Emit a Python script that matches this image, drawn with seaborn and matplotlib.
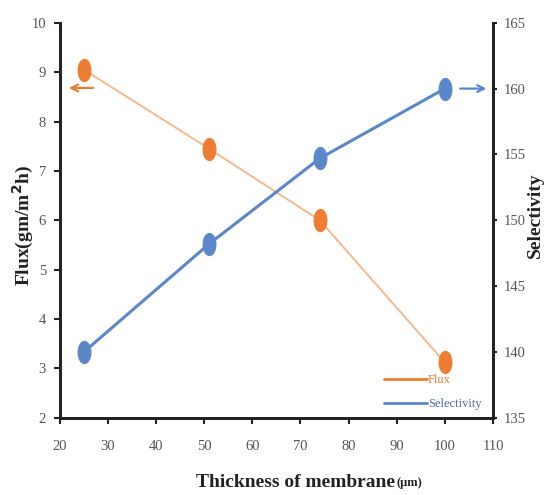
import numpy as np
import pandas as pd
import matplotlib.pyplot as plt
from matplotlib.path import Path
from matplotlib.lines import Line2D
import seaborn as sns

# ── data ────────────────────────────────────────────────────────────
thickness = [25, 51, 74, 100]
flux = [9.05, 7.45, 6.0, 3.12]
selectivity = [140.0, 148.2, 154.7, 160.0]

ORANGE = "#ED7D31"
ORANGE_LINE = "#F5B98E"
BLUE = "#5B87C9"
TICK_GRAY = "#555555"

sns.set_theme(style="white")
plt.rcParams["font.family"] = ["Liberation Serif", "DejaVu Serif"]

# tall ellipse marker, like the stretched Excel bitmap
circ = Path.unit_circle()
ellipse = Path(circ.vertices * np.array([0.58, 1.0]), circ.codes)

df = pd.DataFrame({"thickness": thickness, "flux": flux, "selectivity": selectivity})

fig = plt.figure(figsize=(5.49, 4.95), dpi=100)
ax = fig.add_axes([0.109, 0.156, 0.789, 0.798])
ax2 = ax.twinx()

sns.lineplot(data=df, x="thickness", y="flux", ax=ax, color=ORANGE_LINE,
             linewidth=1.4, marker=ellipse, markersize=16,
             markerfacecolor=ORANGE, markeredgecolor=ORANGE)
sns.lineplot(data=df, x="thickness", y="selectivity", ax=ax2, color=BLUE,
             linewidth=2.2, marker=ellipse, markersize=16,
             markerfacecolor=BLUE, markeredgecolor=BLUE)

ax.set_xlim(20, 110)
ax.set_ylim(2, 10)
ax2.set_ylim(135, 165)
ax.set_xticks(range(20, 111, 10))
ax.set_yticks(range(2, 11))
ax2.set_yticks(range(135, 166, 5))

for a in (ax, ax2):
    a.spines["top"].set_visible(False)
    for side in ("left", "right", "bottom"):
        a.spines[side].set_color("#222222")
        a.spines[side].set_linewidth(2.0)
    a.grid(False)
    a.set_xlabel("")
    a.set_ylabel("")

ax.tick_params(axis="both", which="major", direction="out", length=4, width=1.5,
               color="#222222", labelsize=10.5, labelcolor=TICK_GRAY, pad=6,
               left=True, bottom=True)
ax2.tick_params(axis="y", direction="out", length=3, width=1.5, color="#222222",
                labelsize=10.5, labelcolor=TICK_GRAY, pad=5, right=True)
ax.tick_params(axis="x", pad=12)

# axis labels
fig.text(0.042, 0.545, "Flux(gm/m$^\\mathbf{2}$h)", rotation=90, ha="center",
         va="center", fontsize=14, fontweight="bold", color="#222222")
fig.text(0.975, 0.565, "Selectivity", rotation=90, ha="center", va="center",
         fontsize=14, fontweight="bold", color="#222222")
fig.text(0.72, 0.026, "Thickness of membrane", ha="right", va="center",
         fontsize=14, fontweight="bold", color="#222222")
fig.text(0.722, 0.024, "(\u03bcm)", ha="left", va="center",
         fontsize=9, fontweight="bold", color="#222222")

# axis pointer arrows
ax.annotate("", xy=(21.3, 8.68), xytext=(27.5, 8.68),
            arrowprops=dict(arrowstyle="->", color=ORANGE, lw=1.6))
ax2.annotate("", xy=(109.2, 160), xytext=(102.6, 160),
             arrowprops=dict(arrowstyle="->", color=BLUE, lw=1.6))

handles = [
    Line2D([], [], color=ORANGE, linewidth=2, label="Flux"),
    Line2D([], [], color=BLUE, linewidth=2, label="Selectivity"),
]
ax.legend(handles=handles, loc="lower right", bbox_to_anchor=(1.0, -0.01),
          frameon=False, fontsize=9, handlelength=3.4, handletextpad=0.1,
          labelspacing=1.0, labelcolor=[ORANGE, "#5566AA"])

fig.savefig("out.png", dpi=100)
plt.close(fig)
